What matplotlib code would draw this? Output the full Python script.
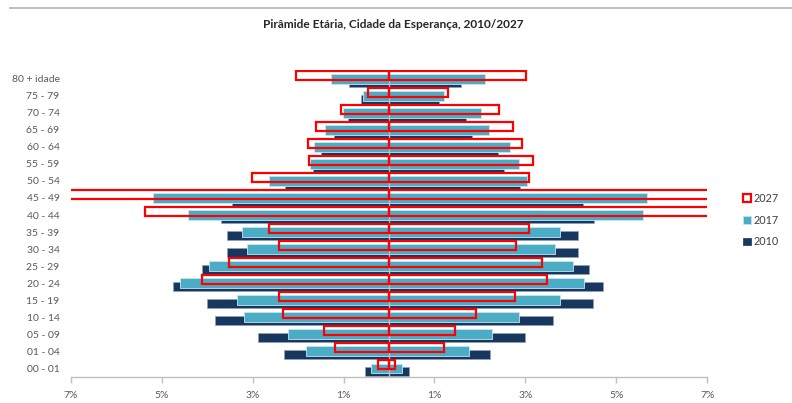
import matplotlib
matplotlib.use("Agg")
import matplotlib.pyplot as plt
from matplotlib.patches import Patch
from matplotlib.lines import Line2D
import numpy as np

plt.rcParams['font.family'] = ['Lato', 'DejaVu Sans']

categories = ["80 + idade", "75 - 79", "70 - 74", "65 - 69", "60 - 64", "55 - 59",
              "50 - 54", "45 - 49", "40 - 44", "35 - 39", "30 - 34", "25 - 29",
              "20 - 24", "15 - 19", "10 - 14", "05 - 09", "01 - 04", "00 - 01"]

left_2010 = [0.88, 0.61, 0.91, 1.21, 1.49, 1.67, 2.29, 3.46, 3.70, 3.57, 3.56, 4.12,
             4.76, 4.01, 3.82, 2.89, 2.32, 0.52]
left_2017 = [1.28, 0.57, 1.01, 1.40, 1.65, 1.73, 2.64, 5.20, 4.42, 3.23, 3.12, 3.96,
             4.60, 3.34, 3.19, 2.22, 1.82, 0.39]
left_2027 = [2.05, 0.47, 1.05, 1.60, 1.78, 1.76, 3.01, 7.80, 5.37, 2.64, 2.42, 3.52,
             4.12, 2.42, 2.33, 1.44, 1.19, 0.24]

right_2010 = [1.58, 1.10, 1.69, 1.83, 2.40, 2.54, 2.87, 4.26, 4.51, 4.16, 4.16, 4.39,
              4.71, 4.49, 3.61, 2.98, 2.22, 0.44]
right_2017 = [2.11, 1.22, 2.02, 2.21, 2.67, 2.86, 3.03, 5.67, 5.58, 3.77, 3.64, 4.04,
              4.28, 3.77, 2.85, 2.27, 1.77, 0.28]
right_2027 = [3.02, 1.30, 2.43, 2.73, 2.92, 3.16, 3.07, 7.80, 7.60, 3.08, 2.80, 3.36,
              3.48, 2.76, 1.91, 1.45, 1.20, 0.14]

tick_values = [-7, -5, -3, -1, 1, 3, 5, 7]
tick_labels = ["7%", "5%", "3%", "1%", "1%", "3%", "5%", "7%"]

title = "Pirâmide Etária, Cidade da Esperança, 2010/2027"

navy = "#17375E"
teal = "#4BACC6"
red = "#FF0000"
gray_txt = "#595959"
gray_line = "#BFBFBF"

fig = plt.figure(figsize=(7.92, 4.03), dpi=100)
ax = fig.add_axes([70.7 / 792, (403 - 376.7) / 403, (707.3 - 70.7) / 792, (376.7 - 70.0) / 403])

y = np.arange(len(categories))
h = 0.55
off = 0.2

ax.barh(y + off, -np.array(left_2010), height=h, color=navy, edgecolor="#8FA3BA", linewidth=0.4, zorder=2)
ax.barh(y + off, right_2010, height=h, color=navy, edgecolor="#8FA3BA", linewidth=0.4, zorder=2)
ax.barh(y, -np.array(left_2017), height=h, color=teal, edgecolor="#C9E6EE", linewidth=0.6, zorder=3)
ax.barh(y, right_2017, height=h, color=teal, edgecolor="#C9E6EE", linewidth=0.6, zorder=3)
ax.barh(y - off, -np.array(left_2027), height=h, fill=False, edgecolor=red, linewidth=1.6, zorder=5)
ax.barh(y - off, right_2027, height=h, fill=False, edgecolor=red, linewidth=1.6, zorder=5)

ax.axvline(0, color=gray_line, linewidth=1.0, zorder=4)

ax.set_xlim(-7, 7)
ax.set_ylim(len(categories) - 0.5, -0.5 - 0.02)

for s in ["top", "right", "left"]:
    ax.spines[s].set_visible(False)
ax.spines["bottom"].set_color(gray_line)
ax.spines["bottom"].set_linewidth(1.0)

ax.set_xticks(tick_values)
ax.set_xticklabels(tick_labels)
ax.tick_params(axis="x", colors=gray_line, length=4, width=1.0, pad=6, labelcolor=gray_txt, labelsize=7.5)
ax.set_yticks(y)
ax.set_yticklabels(categories)
ax.tick_params(axis="y", length=0, pad=8, labelcolor=gray_txt, labelsize=7.5)

fig.text(393 / 792, 1 - 24 / 403, title, ha="center", va="center", fontsize=8.6,
         fontweight="bold", color="#262626")

fig.add_artist(Line2D([10 / 792, 1.0], [1 - 7.5 / 403, 1 - 7.5 / 403],
                      color=gray_line, linewidth=1.4, transform=fig.transFigure))

handles = [Patch(facecolor="white", edgecolor=red, linewidth=1.6, label="2027"),
           Patch(facecolor=teal, edgecolor="#C9E6EE", linewidth=0.5, label="2017"),
           Patch(facecolor=navy, edgecolor=navy, linewidth=0.5, label="2010")]
fig.legend(handles=handles, loc="center left", bbox_to_anchor=(743 / 792, 1 - 220 / 403),
           frameon=False, fontsize=7.8, handlelength=0.7, handleheight=0.7,
           handletextpad=0.3, labelspacing=1.0, borderaxespad=0, borderpad=0,
           labelcolor="#404040")

fig.savefig("out.png", dpi=100, facecolor="white")
